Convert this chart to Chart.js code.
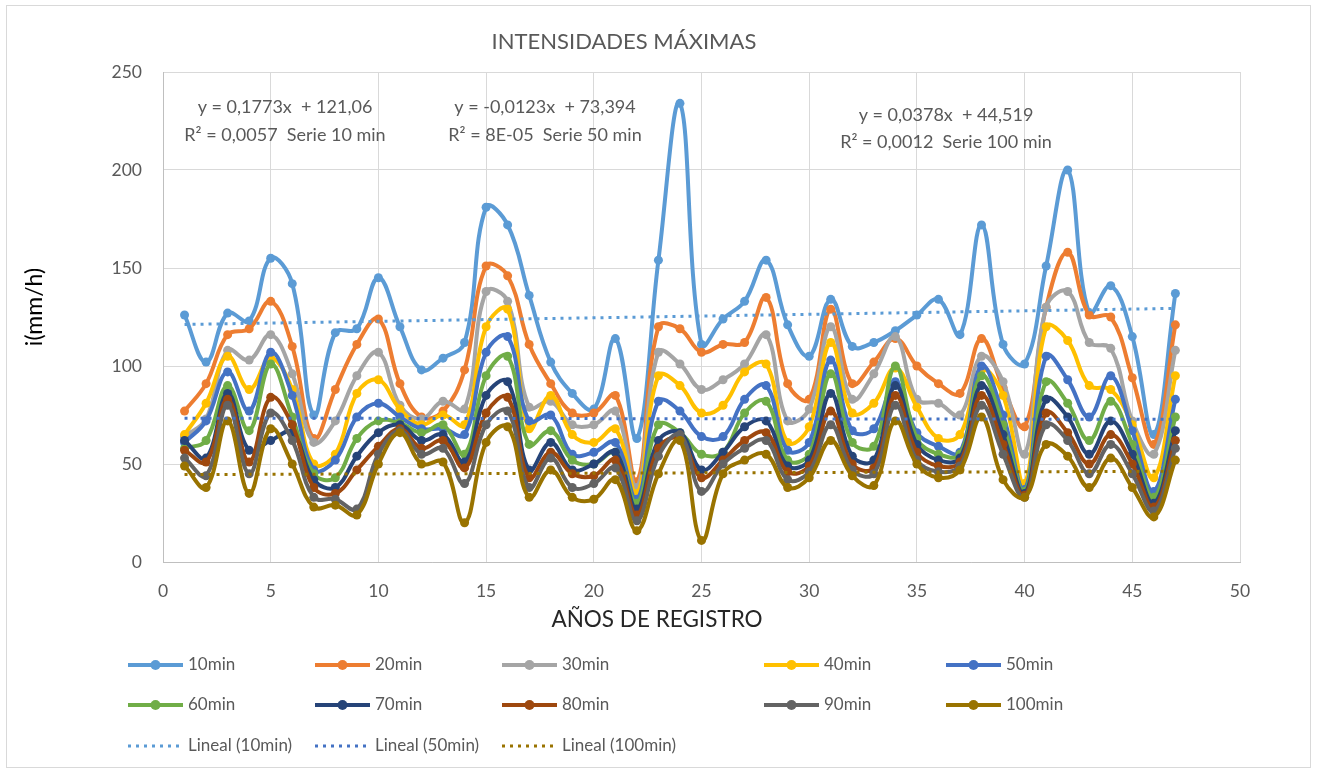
<!DOCTYPE html>
<html>
<head>
<meta charset="utf-8">
<script src="https://cdn.jsdelivr.net/npm/chart.js@4.4.0/dist/chart.umd.min.js"></script>
<style>
  html, body { margin: 0; padding: 0; background: #fff; }
  #wrap { width: 1317px; height: 771px; }
</style>
</head>
<body>
<div id="wrap"><canvas id="chart" width="1317" height="771"></canvas></div>
<script>
// años de registro
const years = [1,2,3,4,5,6,7,8,9,10,11,12,13,14,15,16,17,18,19,20,21,22,23,24,25,26,27,28,29,30,31,32,33,34,35,36,37,38,39,40,41,42,43,44,45,46,47];

// intensidades (mm/h) por duración
const s10  = [126,102,127,123,155,142,75,117,119,145,120,98,104,112,181,172,136,102,86,78,114,63,154,234,111,124,133,154,121,105,134,110,112,118,126,134,116,172,111,101,151,200,127,141,115,65,137];
const s20  = [77,91,116,119,133,110,63,88,111,124,91,74,77,98,151,146,111,91,76,76,85,41,120,119,107,111,112,135,91,83,129,91,102,114,100,91,86,114,89,69,130,158,126,125,94,60,121];
const s30  = [64,73,108,103,116,96,61,72,95,107,80,73,82,78,138,133,79,82,70,70,77,38,107,101,88,93,101,116,72,78,120,83,96,115,83,81,75,105,92,55,130,138,112,109,72,55,108];
const s40  = [65,81,105,88,104,88,50,55,86,93,78,70,75,70,120,129,68,85,65,61,68,35,95,90,76,80,97,101,61,69,112,76,81,99,79,63,65,98,85,40,120,113,90,88,70,43,95];
const s50  = [61,72,97,77,107,85,47,52,74,81,74,68,68,65,107,115,72,75,55,56,61,32,82,77,64,64,83,90,57,61,103,67,68,92,66,59,56,100,75,37,105,93,74,95,67,36,83];
const s60  = [58,62,90,67,101,74,45,43,63,72,71,66,70,55,95,105,60,67,52,50,56,30,70,66,55,56,76,82,52,55,96,61,59,100,63,55,55,95,70,36,92,81,62,82,60,33,74];
const s70  = [62,53,86,57,62,66,42,38,54,66,70,62,65,51,85,92,47,61,47,50,56,27,62,66,47,56,69,72,49,52,86,54,52,90,60,52,53,90,65,35,83,74,55,72,55,30,67];
const s80  = [57,51,83,51,84,70,38,35,47,59,68,58,62,48,76,84,43,56,45,44,52,24,58,63,43,52,62,66,46,49,77,50,48,85,56,49,51,85,60,34,76,66,50,65,50,28,62];
const s90  = [53,44,80,45,76,62,33,32,27,55,67,55,58,40,70,77,38,53,38,40,48,21,54,65,36,50,58,62,42,46,70,47,45,80,52,46,49,80,55,33,70,62,45,60,45,26,58];
const s100 = [49,38,72,35,68,50,28,29,24,50,66,50,51,20,61,69,33,47,33,32,42,16,45,62,11,45,52,55,38,43,62,44,39,72,50,43,47,74,42,33,60,54,38,53,38,23,52];

// líneas de tendencia (extremos x = 1 y x = 47)
const trendX = [1, 47];
const trend10 = [121.2, 129.4];
const trend50 = [73.4, 72.8];
const trend100 = [44.6, 46.3];

const xTicks = [0,5,10,15,20,25,30,35,40,45,50];
const yTicks = [0,50,100,150,200,250];

const seriesNames = ['10min','20min','30min','40min','50min','60min','70min','80min','90min','100min'];
const seriesData = [s10,s20,s30,s40,s50,s60,s70,s80,s90,s100];
const seriesColors = ['#5B9BD5','#ED7D31','#A5A5A5','#FFC000','#4472C4','#70AD47','#264478','#9E480E','#636363','#997300'];

const trendNames = ['Lineal (10min)','Lineal (50min)','Lineal (100min)'];
const trendData = [trend10, trend50, trend100];
const trendColors = ['#5B9BD5','#4472C4','#997300'];

const FONT = 'Lato, "Open Sans", sans-serif';

const datasets = seriesData.map((vals, i) => ({
  label: seriesNames[i],
  data: years.map((x, j) => ({ x: x, y: vals[j] })),
  showLine: true,
  borderColor: seriesColors[i],
  backgroundColor: seriesColors[i],
  borderWidth: 4,
  pointRadius: 4.5,
  pointBorderWidth: 0,
  pointBackgroundColor: seriesColors[i],
  tension: 0.4,
  order: 20 - i
}));

trendData.forEach((vals, i) => {
  datasets.push({
    label: trendNames[i],
    data: trendX.map((x, j) => ({ x: x, y: vals[j] })),
    showLine: true,
    borderColor: trendColors[i],
    borderWidth: 3,
    borderDash: [3, 5],
    pointRadius: 0,
    tension: 0,
    order: -1 - i
  });
});

const equations = [
  { lines: ['y = 0,1773x  + 121,06', 'R\u00B2 = 0,0057  Serie 10 min'], x: 285, y: [107, 135] },
  { lines: ['y = -0,0123x  + 73,394', 'R\u00B2 = 8E-05  Serie 50 min'], x: 545, y: [107, 135] },
  { lines: ['y = 0,0378x  + 44,519', 'R\u00B2 = 0,0012  Serie 100 min'], x: 946, y: [115, 142] }
];

const legendCols = [128, 315, 502, 764, 946];
const legendRows = [665, 705, 746];

const extras = {
  id: 'extras',
  beforeDraw(chart) {
    const ctx = chart.ctx;
    ctx.save();
    ctx.fillStyle = '#fff';
    ctx.fillRect(0, 0, chart.width, chart.height);
    ctx.strokeStyle = '#d9d9d9';
    ctx.lineWidth = 1;
    ctx.strokeRect(6.5, 5.5, 1304, 762);
    ctx.restore();
  },
  afterDraw(chart) {
    const ctx = chart.ctx;
    ctx.save();
    ctx.textBaseline = 'middle';

    // título
    ctx.fillStyle = '#595959';
    ctx.font = '22px ' + FONT;
    ctx.textAlign = 'center';
    ctx.fillText('INTENSIDADES MÁXIMAS', 624, 42);

    // títulos de ejes
    ctx.fillStyle = '#262626';
    ctx.font = '22.5px ' + FONT;
    ctx.fillText('AÑOS DE REGISTRO', 657, 620);
    ctx.save();
    ctx.translate(35, 307);
    ctx.rotate(-Math.PI / 2);
    ctx.fillStyle = '#000';
    ctx.font = '23px ' + FONT;
    ctx.fillText('i(mm/h)', 0, 0);
    ctx.restore();

    // ecuaciones de tendencia
    ctx.fillStyle = '#595959';
    ctx.font = '18px ' + FONT;
    equations.forEach(eq => {
      eq.lines.forEach((t, k) => ctx.fillText(t, eq.x, eq.y[k]));
    });

    // leyenda
    ctx.textAlign = 'left';
    ctx.font = '17px ' + FONT;
    seriesNames.forEach((name, i) => {
      const x = legendCols[i % 5];
      const y = legendRows[Math.floor(i / 5)];
      ctx.strokeStyle = seriesColors[i];
      ctx.lineWidth = 4;
      ctx.setLineDash([]);
      ctx.beginPath();
      ctx.moveTo(x, y);
      ctx.lineTo(x + 55, y);
      ctx.stroke();
      ctx.fillStyle = seriesColors[i];
      ctx.beginPath();
      ctx.arc(x + 27.5, y, 5, 0, Math.PI * 2);
      ctx.fill();
      ctx.fillStyle = '#595959';
      ctx.fillText(name, x + 60, y);
    });
    trendNames.forEach((name, i) => {
      const x = legendCols[i];
      const y = legendRows[2];
      ctx.strokeStyle = trendColors[i];
      ctx.lineWidth = 3;
      ctx.setLineDash([3, 5]);
      ctx.beginPath();
      ctx.moveTo(x, y);
      ctx.lineTo(x + 52, y);
      ctx.stroke();
      ctx.setLineDash([]);
      ctx.fillStyle = '#595959';
      ctx.fillText(name, x + 60, y);
    });
    ctx.restore();
  }
};

const ctx = document.getElementById('chart').getContext('2d');
new Chart(ctx, {
  type: 'scatter',
  data: { datasets: datasets },
  plugins: [extras],
  options: {
    responsive: false,
    animation: false,
    devicePixelRatio: 1,
    layout: { padding: { left: 0, top: 72, right: 77, bottom: 159 } },
    plugins: {
      legend: { display: false },
      tooltip: { enabled: false },
      title: { display: false }
    },
    scales: {
      x: {
        type: 'linear',
        min: 0,
        max: 50,
        afterBuildTicks: (scale) => { scale.ticks = xTicks.map(v => ({ value: v })); },
        afterFit: (scale) => { scale.height = 50; },
        grid: { color: '#d9d9d9', drawTicks: false },
        border: { color: '#bfbfbf' },
        ticks: { color: '#595959', font: { family: FONT, size: 17.5 }, padding: 19 }
      },
      y: {
        type: 'linear',
        min: 0,
        max: 250,
        afterBuildTicks: (scale) => { scale.ticks = yTicks.map(v => ({ value: v })); },
        afterFit: (scale) => { scale.width = 163; },
        grid: { color: '#d9d9d9', drawTicks: false },
        border: { color: '#bfbfbf' },
        ticks: { color: '#595959', font: { family: FONT, size: 17.5 }, padding: 21 }
      }
    }
  }
});
</script>
</body>
</html>
